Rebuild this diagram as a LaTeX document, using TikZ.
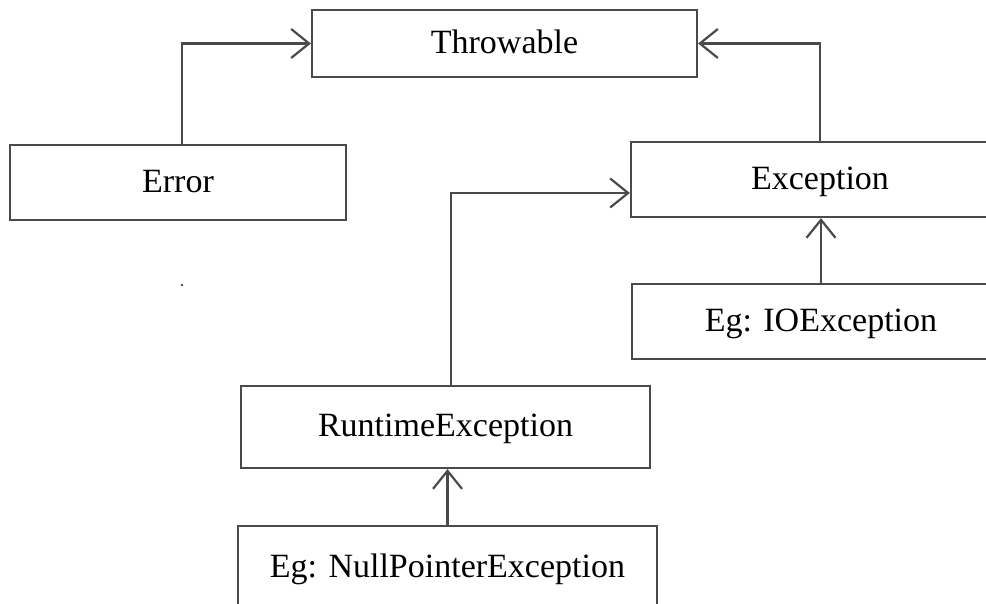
\documentclass[tikz,border=0pt]{standalone}
\usepackage{fontspec}
\setmainfont{Liberation Serif}
\usetikzlibrary{arrows.meta}

\definecolor{linegray}{HTML}{4A4A4A}

\tikzset{
  classbox/.style={draw=linegray, line width=1.1pt, inner sep=0pt,
    minimum height=37.5pt, text height=12pt, text depth=2pt,
    font=\fontsize{17}{20}\selectfont},
  inherit/.style={draw=linegray, line width=1.1pt,
    -{Straight Barb[length=9pt,width=14.5pt]}}
}

\begin{document}
\begin{tikzpicture}[x=0.5pt,y=-0.5pt]

%page frame
\clip (0,0) rectangle (986,604);

%draw class boxes
\node[classbox, minimum width=192.5pt, minimum height=33.5pt] (thr) at (504.5,43.5) {Throwable};
\node[classbox, minimum width=168pt] (err) at (178,182.5) {Error};
\node[classbox, minimum width=189pt] (exc) at (820,179.5) {Exception};
\node[classbox, minimum width=189pt] (ioe) at (821,321.5) {Eg: IOException};
\node[classbox, minimum width=204.5pt, minimum height=41pt] (rte) at (445.5,427) {RuntimeException};
\node[classbox, minimum width=209.5pt, minimum height=41pt] (npe) at (447.5,567) {Eg: NullPointerException};

%draw arrows
\draw[inherit] ([xshift=2pt]err.north) |- (thr.west);
\draw[inherit] (exc.north) |- (thr.east);
\draw[inherit] ([xshift=2.75pt]rte.north) |- ([yshift=-6.75pt]exc.west);
\draw[inherit] (ioe.north) -- (ioe.north |- exc.south);
\draw[inherit] (npe.north) -- (npe.north |- rte.south);

%stray dot
\fill[linegray] (182,285) circle (0.7pt);
\end{tikzpicture}
\end{document}
